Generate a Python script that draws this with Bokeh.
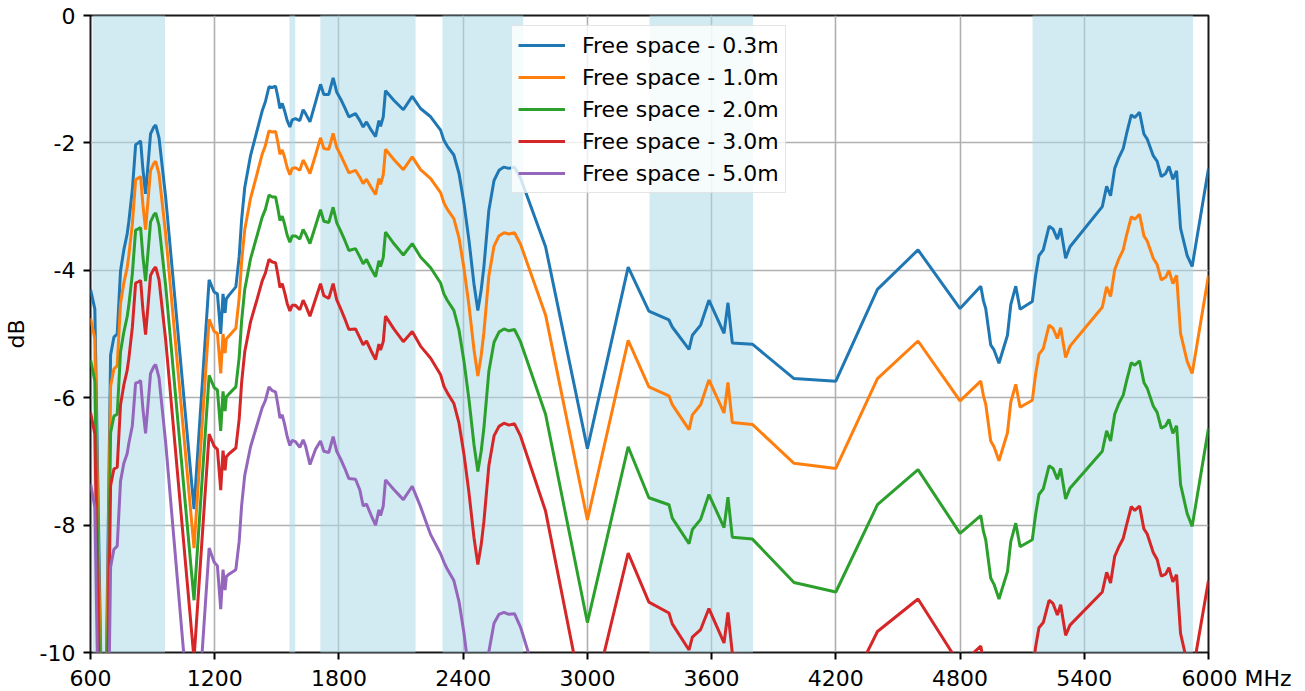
from bokeh.plotting import figure
from bokeh.models import FixedTicker, Legend, LegendItem
from bokeh.embed import file_html
from bokeh.resources import INLINE

# ---- data ----
freq_mhz = [
    600, 621, 665, 697, 713, 729, 745, 761, 777, 785,
    802, 818, 831, 842, 853, 866, 879, 890, 906, 915,
    931, 963, 1100, 1173, 1197, 1213, 1229, 1240, 1250, 1256,
    1269, 1302, 1318, 1330, 1345, 1373, 1405, 1429, 1445, 1462,
    1478, 1494, 1505, 1515, 1526, 1537, 1550, 1563, 1574, 1590,
    1611, 1627, 1639, 1660, 1687, 1711, 1727, 1751, 1772, 1789,
    1808, 1827, 1848, 1880, 1901, 1917, 1933, 1956, 1977, 1993,
    2001, 2014, 2025, 2065, 2111, 2154, 2194, 2243, 2291, 2307,
    2323, 2355, 2380, 2404, 2428, 2452, 2471, 2487, 2500, 2524,
    2549, 2573, 2597, 2621, 2648, 2677, 2798, 3000, 3197, 3297,
    3394, 3410, 3491, 3507, 3547, 3587, 3660, 3679, 3700, 3797,
    3998, 4200, 4401, 4597, 4800, 4900, 4913, 4924, 4948, 4964,
    4988, 5029, 5045, 5069, 5090, 5149, 5165, 5181, 5202, 5230,
    5249, 5270, 5286, 5310, 5331, 5487, 5508, 5527, 5547, 5567,
    5588, 5604, 5627, 5644, 5667, 5688, 5704, 5733, 5752, 5772,
    5793, 5809, 5828, 5846, 5865, 5897, 5921, 6000,
]

fs_0_3m = [
    -4.30, -4.61, -13.0, -5.33, -5.05, -5.00, -4.01, -3.68, -3.43, -3.24,
    -2.74, -2.03, -2.00, -1.97, -2.41, -2.80, -2.30, -1.86, -1.75, -1.72,
    -1.92, -2.85, -7.75, -4.15, -4.34, -4.37, -5.00, -4.37, -4.67, -4.45,
    -4.39, -4.26, -3.79, -3.20, -2.70, -2.20, -1.80, -1.50, -1.35, -1.12,
    -1.13, -1.11, -1.28, -1.46, -1.38, -1.49, -1.65, -1.75, -1.64, -1.62,
    -1.65, -1.48, -1.54, -1.67, -1.36, -1.08, -1.24, -1.24, -0.98, -1.20,
    -1.31, -1.44, -1.59, -1.54, -1.65, -1.75, -1.67, -1.80, -1.90, -1.65,
    -1.74, -1.59, -1.18, -1.33, -1.48, -1.27, -1.46, -1.59, -1.80, -1.96,
    -2.05, -2.19, -2.48, -2.95, -3.53, -4.21, -4.63, -4.31, -3.95, -3.06,
    -2.59, -2.43, -2.38, -2.40, -2.38, -2.55, -3.63, -6.80, -3.95, -4.64,
    -4.78, -4.89, -5.24, -5.02, -4.86, -4.47, -4.99, -4.51, -5.14, -5.16,
    -5.70, -5.74, -4.30, -3.68, -4.60, -4.25, -4.48, -4.60, -5.17, -5.25,
    -5.46, -5.02, -4.54, -4.25, -4.61, -4.49, -4.08, -3.77, -3.68, -3.31,
    -3.35, -3.51, -3.34, -3.81, -3.63, -3.00, -2.68, -2.83, -2.40, -2.23,
    -2.09, -1.86, -1.56, -1.60, -1.52, -1.86, -1.94, -2.20, -2.29, -2.53,
    -2.48, -2.37, -2.57, -2.44, -3.34, -3.77, -3.94, -2.40,
]

fs_1_0m = [
    -4.75, -5.07, -13.5, -5.82, -5.55, -5.50, -4.52, -4.20, -3.96, -3.77,
    -3.28, -2.58, -2.55, -2.53, -2.97, -3.36, -2.86, -2.43, -2.32, -2.29,
    -2.49, -3.43, -8.36, -4.77, -4.96, -4.99, -5.62, -5.00, -5.30, -5.08,
    -5.03, -4.91, -4.44, -3.86, -3.36, -2.87, -2.48, -2.18, -2.04, -1.81,
    -1.83, -1.82, -1.99, -2.18, -2.11, -2.22, -2.39, -2.50, -2.40, -2.39,
    -2.43, -2.27, -2.34, -2.48, -2.19, -1.92, -2.09, -2.10, -1.85, -2.07,
    -2.19, -2.32, -2.47, -2.43, -2.54, -2.64, -2.57, -2.70, -2.81, -2.56,
    -2.65, -2.50, -2.10, -2.26, -2.42, -2.22, -2.42, -2.56, -2.78, -2.94,
    -3.04, -3.19, -3.49, -3.97, -4.55, -5.24, -5.66, -5.34, -4.98, -4.09,
    -3.62, -3.46, -3.41, -3.43, -3.41, -3.59, -4.70, -7.92, -5.10, -5.83,
    -5.97, -6.11, -6.50, -6.27, -6.11, -5.72, -6.24, -5.76, -6.39, -6.42,
    -7.03, -7.11, -5.70, -5.11, -6.05, -5.74, -5.97, -6.10, -6.68, -6.77,
    -6.99, -6.55, -6.07, -5.79, -6.15, -6.04, -5.63, -5.32, -5.23, -4.86,
    -4.91, -5.07, -4.90, -5.37, -5.19, -4.58, -4.26, -4.41, -3.99, -3.82,
    -3.68, -3.45, -3.16, -3.20, -3.12, -3.46, -3.54, -3.81, -3.91, -4.15,
    -4.11, -4.00, -4.21, -4.08, -4.99, -5.43, -5.62, -4.08,
]

fs_2_0m = [
    -5.40, -5.74, -14.2, -6.55, -6.29, -6.26, -5.28, -4.97, -4.73, -4.55,
    -4.06, -3.37, -3.35, -3.33, -3.78, -4.17, -3.67, -3.24, -3.13, -3.10,
    -3.30, -4.24, -9.18, -5.65, -5.84, -5.88, -6.52, -5.90, -6.21, -5.99,
    -5.94, -5.83, -5.37, -4.79, -4.30, -3.82, -3.45, -3.17, -3.04, -2.82,
    -2.85, -2.85, -3.03, -3.22, -3.15, -3.27, -3.45, -3.56, -3.46, -3.46,
    -3.51, -3.36, -3.43, -3.58, -3.30, -3.05, -3.23, -3.25, -3.01, -3.25,
    -3.38, -3.52, -3.69, -3.66, -3.79, -3.90, -3.83, -3.98, -4.10, -3.85,
    -3.94, -3.80, -3.40, -3.58, -3.76, -3.58, -3.79, -3.96, -4.20, -4.37,
    -4.47, -4.63, -4.94, -5.43, -6.03, -6.73, -7.16, -6.84, -6.48, -5.59,
    -5.13, -4.97, -4.92, -4.95, -4.93, -5.12, -6.26, -9.53, -6.77, -7.57,
    -7.68, -7.89, -8.29, -8.07, -7.91, -7.52, -8.04, -7.56, -8.19, -8.22,
    -8.90, -9.05, -7.68, -7.13, -8.13, -7.85, -8.10, -8.23, -8.83, -8.93,
    -9.16, -8.73, -8.26, -7.97, -8.34, -8.23, -7.83, -7.52, -7.43, -7.07,
    -7.11, -7.28, -7.11, -7.59, -7.42, -6.84, -6.52, -6.68, -6.26, -6.09,
    -5.96, -5.74, -5.45, -5.49, -5.42, -5.76, -5.85, -6.13, -6.23, -6.48,
    -6.44, -6.34, -6.56, -6.44, -7.36, -7.82, -8.02, -6.48,
]

fs_3_0m = [
    -6.23, -6.57, -15.0, -7.38, -7.12, -7.09, -6.11, -5.80, -5.57, -5.39,
    -4.90, -4.20, -4.18, -4.16, -4.61, -5.01, -4.51, -4.08, -3.98, -3.95,
    -4.15, -5.09, -10.10, -6.57, -6.76, -6.81, -7.45, -6.83, -7.14, -6.93,
    -6.88, -6.79, -6.34, -5.76, -5.28, -4.81, -4.45, -4.17, -4.04, -3.83,
    -3.87, -3.88, -4.07, -4.27, -4.21, -4.34, -4.52, -4.64, -4.55, -4.55,
    -4.62, -4.47, -4.55, -4.72, -4.45, -4.21, -4.40, -4.44, -4.21, -4.46,
    -4.60, -4.75, -4.93, -4.92, -5.06, -5.17, -5.11, -5.27, -5.40, -5.16,
    -5.25, -5.12, -4.72, -4.92, -5.12, -4.96, -5.19, -5.38, -5.64, -5.82,
    -5.92, -6.09, -6.40, -6.89, -7.49, -8.19, -8.62, -8.31, -7.95, -7.07,
    -6.60, -6.45, -6.40, -6.43, -6.41, -6.60, -7.78, -11.10, -8.44, -9.21,
    -9.38, -9.55, -9.96, -9.76, -9.64, -9.31, -9.85, -9.37, -10.01, -10.06,
    -10.78, -10.99, -9.67, -9.16, -10.20, -9.90, -10.14, -10.27, -10.86, -10.95,
    -11.18, -10.76, -10.29, -10.02, -10.40, -10.31, -9.91, -9.61, -9.53, -9.18,
    -9.23, -9.41, -9.25, -9.73, -9.57, -9.05, -8.74, -8.91, -8.49, -8.34,
    -8.21, -8.00, -7.71, -7.77, -7.70, -8.06, -8.14, -8.43, -8.54, -8.80,
    -8.77, -8.67, -8.89, -8.78, -9.70, -10.16, -10.36, -8.87,
]

fs_5_0m = [
    -7.35, -7.72, -16.2, -8.66, -8.38, -8.33, -7.31, -7.03, -6.88, -6.72,
    -6.44, -5.77, -5.76, -5.73, -6.17, -6.56, -6.06, -5.62, -5.51, -5.48,
    -5.69, -6.70, -11.90, -8.36, -8.58, -8.64, -9.32, -8.70, -9.02, -8.81,
    -8.77, -8.70, -8.26, -7.69, -7.22, -6.77, -6.42, -6.16, -6.04, -5.83,
    -5.89, -5.91, -6.11, -6.32, -6.27, -6.41, -6.61, -6.75, -6.67, -6.69,
    -6.78, -6.66, -6.76, -7.05, -6.81, -6.68, -6.84, -6.86, -6.61, -6.84,
    -6.96, -7.10, -7.27, -7.28, -7.45, -7.70, -7.67, -7.85, -8.00, -7.76,
    -7.85, -7.70, -7.29, -7.44, -7.60, -7.39, -7.71, -8.15, -8.45, -8.58,
    -8.69, -8.87, -9.20, -9.70, -10.32, -11.03, -11.48, -11.19, -10.85, -9.99,
    -9.54, -9.40, -9.37, -9.40, -9.39, -9.60, -10.88, -15.8, -12.95, -13.64,
    -13.78, -13.89, -14.24, -14.02, -13.86, -13.47, -13.99, -13.51, -14.14, -14.16,
    -14.70, -14.74, -14.30, -13.68, -14.60, -14.25, -14.48, -14.60, -15.17, -15.25,
    -15.46, -15.02, -14.54, -14.25, -14.61, -14.49, -14.08, -13.77, -13.68, -13.31,
    -13.35, -13.51, -13.34, -13.81, -13.63, -13.00, -12.68, -12.83, -12.40, -12.23,
    -12.09, -11.86, -11.56, -11.60, -11.52, -11.86, -11.94, -12.20, -12.29, -12.53,
    -12.48, -12.37, -12.57, -12.44, -13.34, -13.77, -13.94, -12.40,
]

series_labels = ["Free space - 0.3m", "Free space - 1.0m", "Free space - 2.0m",
                 "Free space - 3.0m", "Free space - 5.0m"]
series_values = [fs_0_3m, fs_1_0m, fs_2_0m, fs_3_0m, fs_5_0m]
series_colors = ["#1f77b4", "#ff7f0e", "#2ca02c", "#d62728", "#9467bd"]

band_start = [610, 1561, 1710, 2300, 3300, 5150]
band_end = [960, 1589, 2170, 2690, 3800, 5925]

x_ticks = [600, 1200, 1800, 2400, 3000, 3600, 4200, 4800, 5400, 6000]
y_ticks = [-10, -8, -6, -4, -2, 0]
x_unit = "MHz"

FONT = "DejaVu Sans"
NBSP = "\u00a0"

p = figure(frame_width=1118, frame_height=637,
           x_range=(600, 6000), y_range=(-10, 0),
           output_backend="svg", toolbar_location=None,
           min_border_left=90, min_border_top=15, min_border_right=92,
           min_border_bottom=36)
p.background_fill_color = "white"
p.border_fill_color = "white"
p.outline_line_color = "black"
p.outline_line_width = 2
p.outline_line_alpha = 0.9

# shaded bands
p.quad(left=band_start, right=band_end, bottom=-50, top=50,
       fill_color="lightblue", fill_alpha=0.55, line_color=None)

renderers = []
for lab, vals, col in zip(series_labels, series_values, series_colors):
    r = p.line(freq_mhz, vals, line_color=col, line_width=3)
    renderers.append((lab, r))

# axes
p.xaxis.ticker = FixedTicker(ticks=x_ticks)
p.yaxis.ticker = FixedTicker(ticks=y_ticks)
x_over = {t: str(t) for t in x_ticks}
# the unit sits to the right of the last tick label
x_over[x_ticks[-1]] = NBSP * 8 + str(x_ticks[-1]) + " " + x_unit
p.xaxis.major_label_overrides = x_over
p.yaxis.major_label_overrides = {t: str(t) for t in y_ticks}
for ax in (p.xaxis, p.yaxis):
    ax.axis_line_color = None
    ax.major_tick_out = 7
    ax.major_tick_in = 0
    ax.major_tick_line_width = 2
    ax.major_tick_line_color = "black"
    ax.minor_tick_line_color = None
    ax.major_label_text_font = FONT
    ax.major_label_text_font_size = "22px"
    ax.major_label_text_color = "black"
p.xaxis.major_label_standoff = 6
p.yaxis.major_label_standoff = 8
p.yaxis.axis_label = "dB"
p.yaxis.axis_label_text_font = FONT
p.yaxis.axis_label_text_font_size = "22px"
p.yaxis.axis_label_text_font_style = "normal"
p.yaxis.axis_label_text_color = "black"
p.yaxis.axis_label_standoff = 8

p.xgrid.ticker = FixedTicker(ticks=x_ticks)
p.ygrid.ticker = FixedTicker(ticks=y_ticks)
for g in (p.xgrid, p.ygrid):
    g.grid_line_color = "#b0b0b0"
    g.grid_line_width = 1.6

legend = Legend(items=[LegendItem(label=lab, renderers=[r]) for lab, r in renderers],
                location=(421, 459))
legend.label_text_font = FONT
legend.label_text_font_size = "22px"
legend.label_text_color = "black"
legend.glyph_width = 47
legend.glyph_height = 26
legend.label_height = 26
legend.spacing = 6
legend.padding = 6
legend.margin = 0
legend.label_standoff = 17
legend.border_line_color = "#cccccc"
legend.border_line_width = 1.5
legend.background_fill_alpha = 0.8
p.add_layout(legend)

open("out.html", "w").write(file_html(p, INLINE))
